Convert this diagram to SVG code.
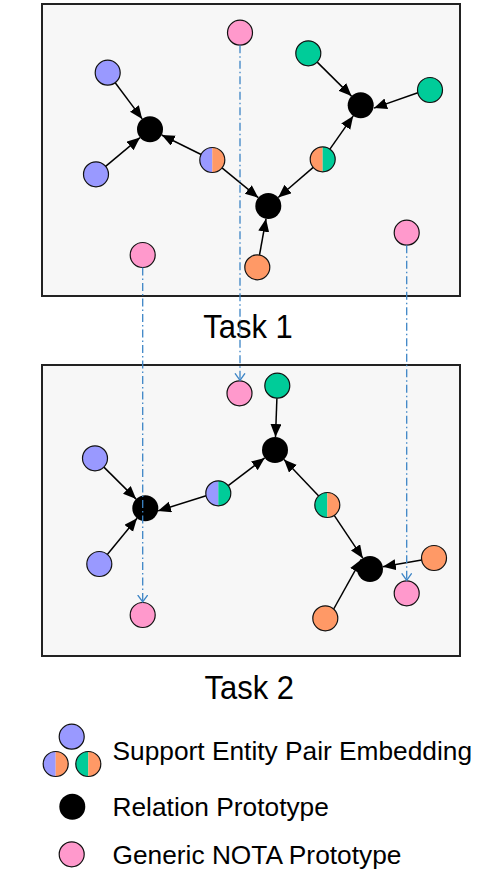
<svg xmlns="http://www.w3.org/2000/svg" width="491" height="890" viewBox="0 0 491 890">
<style>
.box{fill:#f7f7f7;stroke:#222;stroke-width:2}
.n{stroke:#111;stroke-width:1.2}
.pu{fill:#9999ff}.or{fill:#ff9966}.gr{fill:#00cc99}.pk{fill:#ff99cc}.bk{fill:#000}
.ol{fill:none;stroke:#111;stroke-width:1.2}
.ar{stroke:#000;stroke-width:1.5;fill:none;marker-end:url(#ah)}
.dd{stroke:#3d85c6;stroke-width:1.3;fill:none;stroke-dasharray:8 3 1.5 3;marker-end:url(#vh)}
text{font-family:"Liberation Sans",Arial,sans-serif;fill:#000}
.t{font-size:31px;text-anchor:middle}
.l{font-size:26.3px}
</style>
<defs>
<marker id="ah" markerUnits="userSpaceOnUse" markerWidth="14" markerHeight="12" refX="13" refY="5.5" orient="auto">
<path d="M0,0 L13,5.5 L0,11 Z" fill="#000"/>
</marker>
<marker id="vh" markerUnits="userSpaceOnUse" markerWidth="10" markerHeight="12" refX="7" refY="5.5" orient="auto">
<path d="M0,0.5 L7,5.5 L0,10.5" fill="none" stroke="#3d85c6" stroke-width="1.3"/>
</marker>
</defs>

<g id="task1-box"><rect class="box" x="42" y="4" width="418" height="292"/></g>
<g id="task2-box"><rect class="box" x="42" y="365" width="418" height="291"/></g>
<g id="task1-label"><text class="t" transform="translate(248,338.3) scale(1,1.1)">Task 1</text></g>
<g id="task2-label"><text class="t" transform="translate(249.3,699) scale(1,1.1)">Task 2</text></g>

<g id="connectors">
<line class="ar" x1="115.2" y1="82.7" x2="142.2" y2="118.9"/>
<line class="ar" x1="105.6" y1="166.3" x2="140.0" y2="137.6"/>
<line class="ar" x1="201.1" y1="154.5" x2="161.7" y2="135.0"/>
<line class="ar" x1="222.0" y1="167.9" x2="258.3" y2="197.7"/>
<line class="ar" x1="259.5" y1="255.0" x2="266.0" y2="218.8"/>
<line class="ar" x1="313.2" y1="167.4" x2="278.2" y2="197.5"/>
<line class="ar" x1="329.9" y1="149.1" x2="353.2" y2="115.9"/>
<line class="ar" x1="317.2" y1="62.1" x2="351.5" y2="96.1"/>
<line class="ar" x1="417.8" y1="92.7" x2="374.0" y2="108.1"/>

<line class="ar" x1="103.9" y1="467.1" x2="136.1" y2="499.1"/>
<line class="ar" x1="107.3" y1="554.4" x2="137.0" y2="518.3"/>
<line class="ar" x1="206.1" y1="495.8" x2="158.0" y2="510.9"/>
<line class="ar" x1="228.2" y1="485.7" x2="264.7" y2="457.9"/>
<line class="ar" x1="276.9" y1="398.2" x2="275.5" y2="437.0"/>
<line class="ar" x1="318.7" y1="495.9" x2="284.0" y2="459.4"/>
<line class="ar" x1="334.2" y1="515.4" x2="362.8" y2="558.2"/>
<line class="ar" x1="421.7" y1="560.1" x2="382.8" y2="566.8"/>
<line class="ar" x1="333.7" y1="609.0" x2="361.3" y2="559.4"/>
</g>

<!-- Task 1 nodes -->
<g id="t1-pink-top"><circle class="n pk" cx="240" cy="32.7" r="12.5"/></g>
<g id="t1-purple-1"><circle class="n pu" cx="107.7" cy="72.7" r="12.5"/></g>
<g id="t1-purple-2"><circle class="n pu" cx="96" cy="174.3" r="12.5"/></g>
<g id="t1-proto-1"><circle class="bk" cx="150" cy="129.3" r="13"/></g>
<g id="t1-half-po"><path class="pu" d="M212.3,147.5 A12.5,12.5 0 0 0 212.3,172.5 Z"/><path class="or" d="M212.3,147.5 A12.5,12.5 0 0 1 212.3,172.5 Z"/><circle class="ol" cx="212.3" cy="160" r="12.5"/></g>
<g id="t1-pink-left"><circle class="n pk" cx="142.7" cy="255" r="12.5"/></g>
<g id="t1-proto-2"><circle class="bk" cx="268.3" cy="206" r="13"/></g>
<g id="t1-orange"><circle class="n or" cx="257.3" cy="267.3" r="12.5"/></g>
<g id="t1-green-1"><circle class="n gr" cx="308.3" cy="53.3" r="12.5"/></g>
<g id="t1-green-2"><circle class="n gr" cx="430" cy="90" r="12.5"/></g>
<g id="t1-proto-3"><circle class="bk" cx="360.7" cy="105.3" r="13"/></g>
<g id="t1-half-og"><path class="or" d="M322.7,146.8 A12.5,12.5 0 0 0 322.7,171.8 Z"/><path class="gr" d="M322.7,146.8 A12.5,12.5 0 0 1 322.7,171.8 Z"/><circle class="ol" cx="322.7" cy="159.3" r="12.5"/></g>
<g id="t1-pink-right"><circle class="n pk" cx="406.7" cy="232.7" r="12.5"/></g>

<!-- Task 2 nodes -->
<g id="t2-pink-top"><circle class="n pk" cx="239.5" cy="393.3" r="12.5"/></g>
<g id="t2-purple-1"><circle class="n pu" cx="95" cy="458.3" r="12.5"/></g>
<g id="t2-purple-2"><circle class="n pu" cx="99.3" cy="564" r="12.5"/></g>
<g id="t2-proto-1"><circle class="bk" cx="145.3" cy="508.3" r="13"/></g>
<g id="t2-half-pg"><path class="pu" d="M218.3,480.8 A12.5,12.5 0 0 0 218.3,505.8 Z"/><path class="gr" d="M218.3,480.8 A12.5,12.5 0 0 1 218.3,505.8 Z"/><circle class="ol" cx="218.3" cy="493.3" r="12.5"/></g>
<g id="t2-pink-bottom"><circle class="n pk" cx="142.7" cy="615" r="12.5"/></g>
<g id="t2-green"><circle class="n gr" cx="277.3" cy="385.7" r="12.5"/></g>
<g id="t2-proto-2"><circle class="bk" cx="275" cy="450" r="13"/></g>
<g id="t2-half-go"><path class="gr" d="M327.3,492.5 A12.5,12.5 0 0 0 327.3,517.5 Z"/><path class="or" d="M327.3,492.5 A12.5,12.5 0 0 1 327.3,517.5 Z"/><circle class="ol" cx="327.3" cy="505" r="12.5"/></g>
<g id="t2-proto-3"><circle class="bk" cx="370" cy="569" r="13"/></g>
<g id="t2-orange-right"><circle class="n or" cx="434" cy="558" r="12.5"/></g>
<g id="t2-orange-bottom"><circle class="n or" cx="325.3" cy="618.3" r="12.5"/></g>
<g id="t2-pink-right"><circle class="n pk" cx="406.7" cy="593.3" r="12.5"/></g>

<g id="nota-links">
<line class="dd" x1="240" y1="45.2" x2="240" y2="380.3"/>
<line class="dd" x1="142.7" y1="267.5" x2="142.7" y2="602"/>
<line class="dd" x1="406.7" y1="245.2" x2="406.7" y2="580.3"/>
</g>

<!-- Legend -->
<g id="legend-support">
<circle class="n pu" cx="71.7" cy="736.7" r="12.5"/>
<path class="pu" d="M55.7,751.5 A12.5,12.5 0 0 0 55.7,776.5 Z"/><path class="or" d="M55.7,751.5 A12.5,12.5 0 0 1 55.7,776.5 Z"/><circle class="ol" cx="55.7" cy="764" r="12.5"/>
<path class="gr" d="M88.3,751.5 A12.5,12.5 0 0 0 88.3,776.5 Z"/><path class="or" d="M88.3,751.5 A12.5,12.5 0 0 1 88.3,776.5 Z"/><circle class="ol" cx="88.3" cy="764" r="12.5"/>
<text class="l" x="112.5" y="760">Support Entity Pair Embedding</text>
</g>
<g id="legend-relation">
<circle class="bk" cx="72.3" cy="806.7" r="13"/>
<text class="l" x="112.5" y="816">Relation Prototype</text>
</g>
<g id="legend-nota">
<circle class="n pk" cx="71.7" cy="854.3" r="12.5"/>
<text class="l" x="112.5" y="864">Generic NOTA Prototype</text>
</g>
</svg>
